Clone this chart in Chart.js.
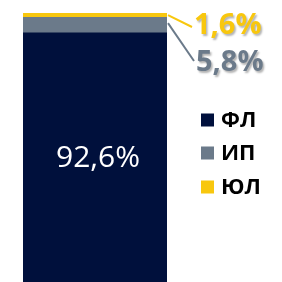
<!DOCTYPE html>
<html>
<head>
<meta charset="utf-8">
<script src="https://cdn.jsdelivr.net/npm/chart.js@4"></script>
<style>
  body { margin: 0; background: #fff; }
  canvas { display: block; }
</style>
</head>
<body>
<canvas id="shareChart" width="282" height="282"></canvas>
<script>
const categories = ["Доля"];
const seriesNames = ["ФЛ", "ИП", "ЮЛ"];
const flValues = [92.6];
const ipValues = [5.8];
const ulValues = [1.6];

const colors = ["#00103C", "#6B7A8A", "#F8C70E"];

const fmt = (v) => v.toFixed(1).replace(".", ",") + "%";

// labels next to the bar + the legend on the right
const labelPlugin = {
  id: "labels",
  afterDatasetsDraw(chart) {
    const ctx = chart.ctx;
    const fl = chart.getDatasetMeta(0).data[0];
    const ip = chart.getDatasetMeta(1).data[0];
    const ul = chart.getDatasetMeta(2).data[0];
    const right = fl.x + fl.width / 2;

    ctx.save();
    // value inside the big segment
    ctx.fillStyle = "#fff";
    ctx.font = "30px 'Open Sans'";
    ctx.textAlign = "center";
    ctx.textBaseline = "middle";
    ctx.fillText(fmt(flValues[0]), fl.x + 3, (fl.y + fl.base) / 2 + 1);

    // leader lines
    ctx.lineWidth = 2;
    ctx.strokeStyle = colors[2];
    ctx.beginPath();
    ctx.moveTo(right + 1, (ul.y + ul.base) / 2);
    ctx.lineTo(right + 25, 27);
    ctx.stroke();
    ctx.strokeStyle = colors[1];
    ctx.beginPath();
    ctx.moveTo(right + 1, (ip.y + ip.base) / 2 - 2);
    ctx.lineTo(right + 27, 61);
    ctx.stroke();

    // outside values with a soft shadow
    ctx.font = "bold 29px 'Open Sans'";
    ctx.textAlign = "left";
    ctx.textBaseline = "alphabetic";
    ctx.shadowColor = "rgba(0,0,0,0.3)";
    ctx.shadowOffsetX = 1.5;
    ctx.shadowOffsetY = 1.5;
    ctx.shadowBlur = 2;
    ctx.fillStyle = colors[2];
    ctx.fillText(fmt(ulValues[0]), right + 27, 34);
    ctx.fillStyle = colors[1];
    ctx.fillText(fmt(ipValues[0]), right + 29, 71);
    ctx.restore();

    // legend
    ctx.save();
    ctx.font = "bold 22px 'Open Sans'";
    ctx.textBaseline = "middle";
    const rowsY = [120, 153, 187];
    seriesNames.forEach((name, i) => {
      ctx.fillStyle = colors[i];
      ctx.fillRect(201, rowsY[i] - 6.5, 13, 13);
      ctx.fillStyle = "#000";
      ctx.fillText(name, 221, rowsY[i] + 1);
    });
    ctx.restore();
  }
};

new Chart(document.getElementById("shareChart"), {
  type: "bar",
  data: {
    labels: categories,
    datasets: [
      { label: seriesNames[0], data: flValues, backgroundColor: colors[0] },
      { label: seriesNames[1], data: ipValues, backgroundColor: colors[1] },
      { label: seriesNames[2], data: ulValues, backgroundColor: colors[2] },
    ],
  },
  options: {
    responsive: false,
    animation: false,
    layout: { padding: { left: 23, top: 13, right: 115, bottom: 0 } },
    datasets: { bar: { barPercentage: 1, categoryPercentage: 1 } },
    scales: {
      x: { stacked: true, display: false },
      y: { stacked: true, display: false, min: 0, max: 100 },
    },
    plugins: { legend: { display: false }, tooltip: { enabled: false } },
  },
  plugins: [labelPlugin],
});
</script>
</body>
</html>
